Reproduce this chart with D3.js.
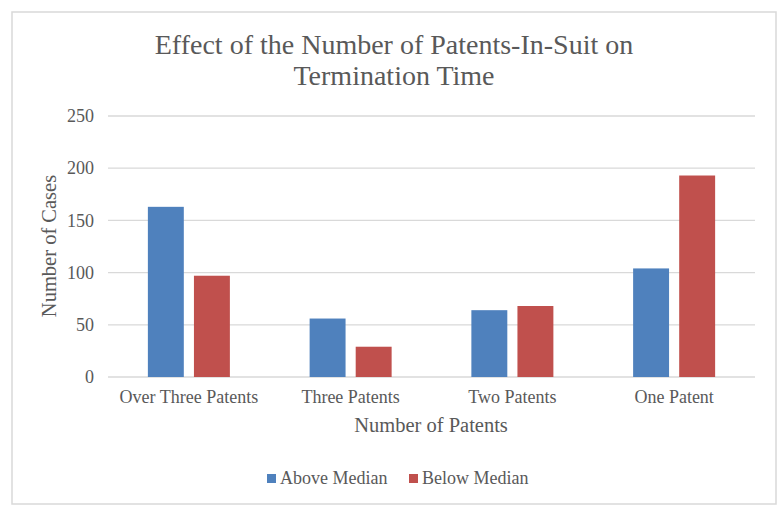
<!DOCTYPE html>
<html><head><meta charset="utf-8">
<script src="https://cdn.jsdelivr.net/npm/d3@7"></script>
<style>body{margin:0;background:#fff}svg{display:block}</style>
</head><body><svg id="c" width="784" height="514"></svg>
<script>
const categories = ["Over Three Patents", "Three Patents", "Two Patents", "One Patent"];
const seriesNames = ["Above Median", "Below Median"];
const aboveMedian = [163, 56, 64, 104];
const belowMedian = [97, 29, 68, 193];
const yTicks = [0, 50, 100, 150, 200, 250];
const colors = ["#4f81bd", "#c0504d"];
const FONT = "Liberation Serif";

const svg = d3.select("#c");
svg.append("rect").attr("x",12).attr("y",12).attr("width",764).attr("height",492)
  .attr("fill","#fff").attr("stroke","#d9d9d9").attr("stroke-width",1.5);

const m = {left:108, right:755, top:116, bottom:377};
const x = d3.scaleBand().domain(categories).range([m.left, m.right]).paddingInner(0.493).paddingOuter(0.2465);
const xi = d3.scaleBand().domain(seriesNames).range([0, x.bandwidth()]).paddingInner(0.22);
const y = d3.scaleLinear().domain([0,250]).range([m.bottom, m.top]);

svg.append("g").selectAll("line").data(yTicks).join("line")
  .attr("x1", m.left).attr("x2", m.right)
  .attr("y1", d=>y(d)).attr("y2", d=>y(d))
  .attr("stroke","#d9d9d9").attr("stroke-width",1.3);

const yAxis = d3.axisLeft(y).tickValues(yTicks).tickSize(0).tickPadding(14);
const gy = svg.append("g").attr("transform",`translate(${m.left},0)`).call(yAxis);
gy.attr("font-family", null).attr("font-size", null);
gy.select(".domain").remove();
gy.selectAll("text").attr("fill","#595959").attr("font-family",FONT).attr("font-size",18);

const xAxis = d3.axisBottom(x).tickSize(0).tickPadding(13);
const gx = svg.append("g").attr("transform",`translate(0,${m.bottom})`).call(xAxis);
gx.attr("font-family", null).attr("font-size", null);
gx.select(".domain").remove();
gx.selectAll("text").attr("fill","#595959").attr("font-family",FONT).attr("font-size",18);

const rows = categories.map((c,i)=>({cat:c, vals:[aboveMedian[i], belowMedian[i]]}));
const grp = svg.append("g").selectAll("g").data(rows).join("g")
  .attr("transform", d=>`translate(${x(d.cat)},0)`);
grp.selectAll("rect").data(d=>d.vals.map((v,j)=>({s:seriesNames[j], v, j}))).join("rect")
  .attr("x", d=>xi(d.s)).attr("width", xi.bandwidth())
  .attr("y", d=>y(d.v)).attr("height", d=>y(0)-y(d.v))
  .attr("fill", d=>colors[d.j]);

const t = svg.append("text").attr("text-anchor","middle").attr("font-family",FONT).attr("font-size",28).attr("fill","#595959");
t.append("tspan").attr("x",394).attr("y",54).text("Effect of the Number of Patents-In-Suit on");
t.append("tspan").attr("x",394).attr("y",85).text("Termination Time");

svg.append("text").attr("x",431).attr("y",432).attr("text-anchor","middle").attr("font-family",FONT).attr("font-size",20.5).attr("fill","#595959").text("Number of Patents");
svg.append("text").attr("transform","translate(56,246) rotate(-90)").attr("text-anchor","middle").attr("font-family",FONT).attr("font-size",20.5).attr("fill","#595959").text("Number of Cases");

const legX = [267, 409];
const lg = svg.append("g").selectAll("g").data(seriesNames).join("g")
  .attr("transform",(d,i)=>`translate(${legX[i]},474)`);
lg.append("rect").attr("width",9).attr("height",9).attr("fill",(d,i)=>colors[i]);
lg.append("text").attr("x",13).attr("y",10).attr("font-family",FONT).attr("font-size",18).attr("fill","#595959").text(d=>d);
</script></body></html>
